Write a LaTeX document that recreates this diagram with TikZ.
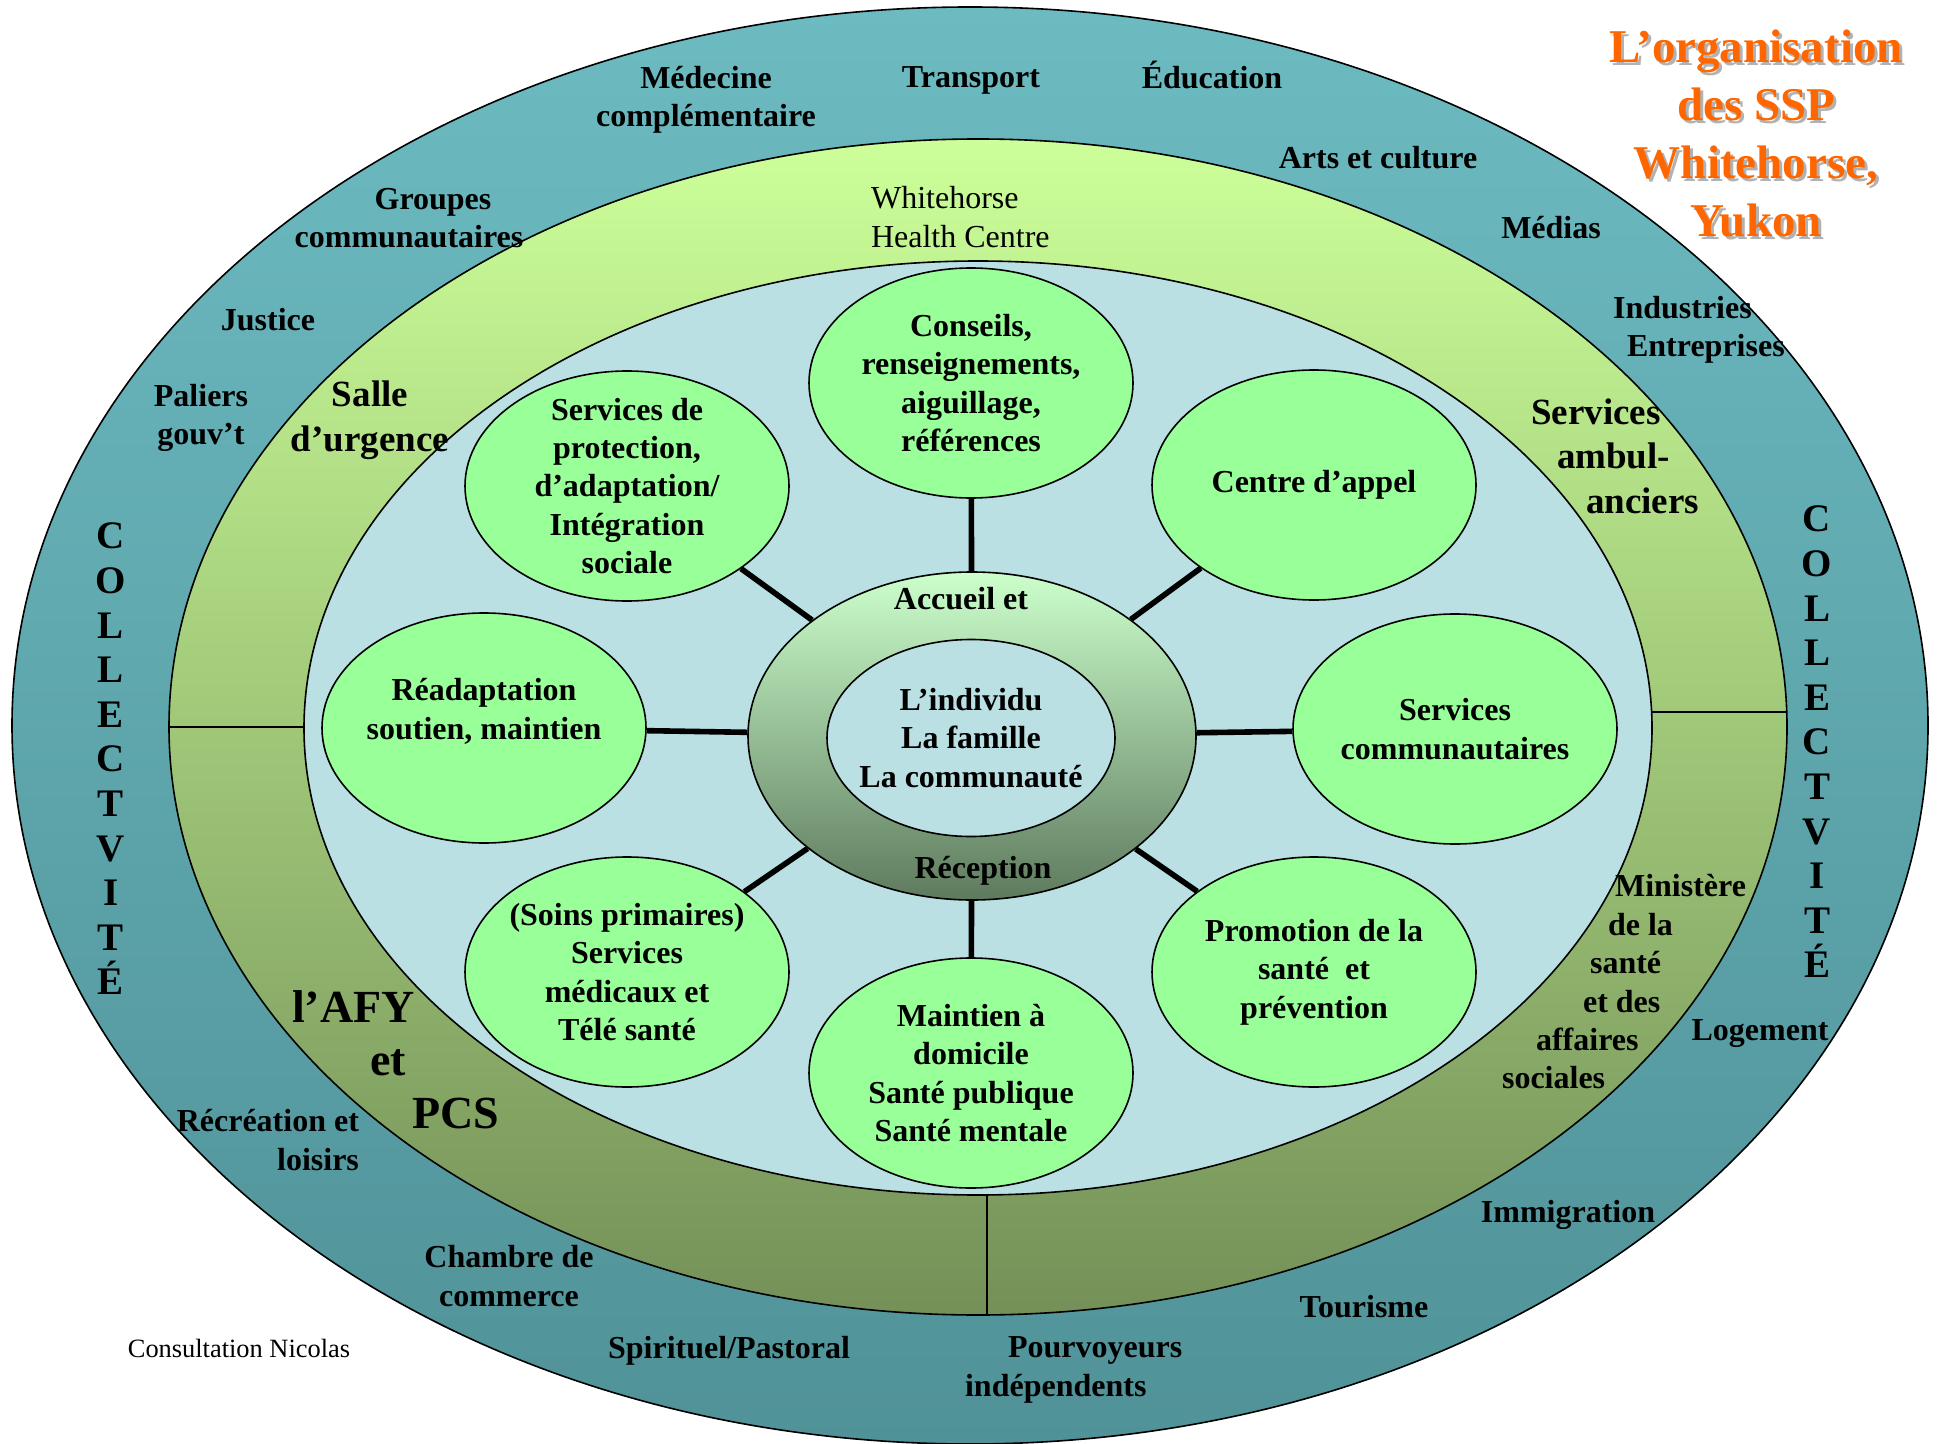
\documentclass[tikz,border=0pt]{standalone}
\usepackage{fontspec}
\setmainfont{Liberation Serif}
\usetikzlibrary{shapes.geometric}
\definecolor{tealtop}{RGB}{108,187,193}
\definecolor{tealbot}{RGB}{80,146,152}
\definecolor{limetop}{RGB}{204,255,153}
\definecolor{limemid}{RGB}{172,211,127}
\definecolor{limebot}{RGB}{116,144,88}
\definecolor{paleblue}{RGB}{187,224,227}
\definecolor{satgreen}{RGB}{153,255,153}
\definecolor{minttop}{RGB}{204,255,204}
\definecolor{mintbot}{RGB}{94,122,94}
\definecolor{titleorange}{RGB}{255,102,0}

\begin{document}
\begin{tikzpicture}[x=0.5pt,y=-0.5pt,
	sat/.style={ellipse,draw,line width=0.8pt,fill=satgreen,minimum width=162pt,minimum height=115pt,inner sep=-12pt,align=center,font=\bfseries\fontsize{16}{19.2}\selectfont},
	lab/.style={align=center,font=\bfseries\fontsize{16}{19.2}\selectfont},
	biglab/.style={align=center,font=\bfseries\fontsize{18.5}{22.3}\selectfont},
	plainlab/.style={align=left,font=\fontsize{16}{19.2}\selectfont},
	vlab/.style={align=center,font=\bfseries\fontsize{19.5}{22.3}\selectfont},
	titletext/.style={align=center,font=\bfseries\fontsize{23.5}{29}\selectfont},
	link/.style={line width=2.8pt}]
	\useasboundingbox (0,0) rectangle (1942,1444);

	\draw[line width=0.8pt,top color=tealtop,bottom color=tealbot] (970,725.5) ellipse [x radius=958, y radius=718.5];
	\draw[line width=0.8pt,top color=limetop,middle color=limemid,bottom color=limebot] (978,727) ellipse [x radius=809, y radius=588];
	\draw[line width=0.8pt,fill=paleblue] (978,728) ellipse [x radius=674, y radius=467];
	\draw[line width=0.6pt] (169,727) -- (304,727);
	\draw[line width=0.6pt] (1652,712) -- (1787,712);
	\draw[line width=0.6pt] (987,1195) -- (987,1315);

	\node[sat] (conseil) at (971,383) {Conseils,\\renseignements,\\aiguillage,\\références};
	\node[sat] (appel) at (1314,485) {Centre d’appel};
	\node[sat] (commun) at (1455,729) {Services\\communautaires};
	\node[sat] (promo) at (1314,972) {Promotion de la\\santé~ et\\prévention};
	\node[sat] (maintien) at (971,1073) {Maintien à\\domicile\\Santé publique\\Santé mentale};
	\node[sat] (soins) at (627,972) {(Soins primaires)\\Services\\médicaux et\\Télé santé};
	\node[sat] (readapt) at (484,728) {Réadaptation\\soutien, maintien\\\mbox{}};
	\node[sat] (protect) at (627,486) {Services de\\protection,\\d’adaptation/\\Intégration\\sociale};

	\node[ellipse,draw,line width=0.8pt,top color=minttop,bottom color=mintbot,minimum width=224pt,minimum height=164pt] (accueil) at (972,736) {};
	\node[ellipse,draw,line width=0.8pt,fill=paleblue,minimum width=144pt,minimum height=98.5pt,inner sep=-12pt,lab] (individu) at (971,738) {L’individu\\La famille\\La communauté};
	\node[lab] (accueilt) at (961,599) {Accueil et};
	\node[lab] (reception) at (983,871) {Réception};

	\foreach \s in {conseil,appel,commun,promo,maintien,soins,readapt,protect}
		\draw[link] (\s) -- (accueil);

	% anneau du milieu
	\node[plainlab,anchor=west] (whitehorse) at (864,217) {Whitehorse\\Health Centre};
	\node[biglab] (salle) at (370,420) {Salle\\d’urgence};
	\node[biglab,align=left,anchor=west] (ambul) at (1524,456) {Services\\\hspace*{13pt}ambul-\\\hspace*{27.5pt}anciers};
	\node[lab,align=left,anchor=west] (ministere) at (1495,982) {\hspace*{56.5pt}Ministère\\\hspace*{53pt}de la\\\hspace*{44pt}santé\\\hspace*{40.5pt}et des\\\hspace*{17pt}affaires\\sociales};
	\node[align=left,anchor=west,font=\bfseries\fontsize{23}{26.5}\selectfont] (afy) at (285,1060) {l’AFY\\\hspace*{39pt}et\\\hspace*{60pt}PCS};

	% anneau exterieur
	\node[lab] (medecine) at (706,100) {Médecine\\complémentaire};
	\node[lab] (transport) at (971,80) {Transport};
	\node[lab] (education) at (1212,75) {Éducation};
	\node[lab] (arts) at (1378,158) {Arts et culture};
	\node[lab] (medias) at (1551,228) {Médias};
	\node[lab,align=left,anchor=west] (industries) at (1606,330) {Industries\\\hspace*{7pt}Entreprises};
	\node[lab] (groupes) at (409,218) {\hspace*{24pt}Groupes\\communautaires};
	\node[lab] (justice) at (268,320) {Justice};
	\node[lab] (paliers) at (201,418) {Paliers\\gouv’t};
	\node[lab,align=right,anchor=east] (recreation) at (366,1140) {Récréation et\\loisirs};
	\node[lab] (chambre) at (509,1276) {Chambre de\\commerce};
	\node[lab] (spirituel) at (729,1351) {Spirituel/Pastoral};
	\node[lab,align=left,anchor=west] (pourvoyeurs) at (958,1370) {\hspace*{21.5pt}Pourvoyeurs\\indépendents};
	\node[lab] (tourisme) at (1364,1307) {Tourisme};
	\node[lab] (immigration) at (1568,1215) {Immigration};
	\node[lab] (logement) at (1760,1034) {Logement};
	\node[vlab] (collg) at (111,759) {C\\O\\L\\L\\E\\C\\T\\V\\I\\T\\É};
	\node[vlab] (colld) at (1817,742) {C\\O\\L\\L\\E\\C\\T\\V\\I\\T\\É};
	\node[font=\fontsize{13.2}{15.8}\selectfont] (consult) at (239,1348) {Consultation Nicolas};

	\node[titletext,text=black!30] (titleshadow) at (1759,136) {L’organisation\\des SSP\\Whitehorse,\\Yukon};
	\node[titletext,text=titleorange] (title) at (1756,133) {L’organisation\\des SSP\\Whitehorse,\\Yukon};
\end{tikzpicture}
\end{document}
